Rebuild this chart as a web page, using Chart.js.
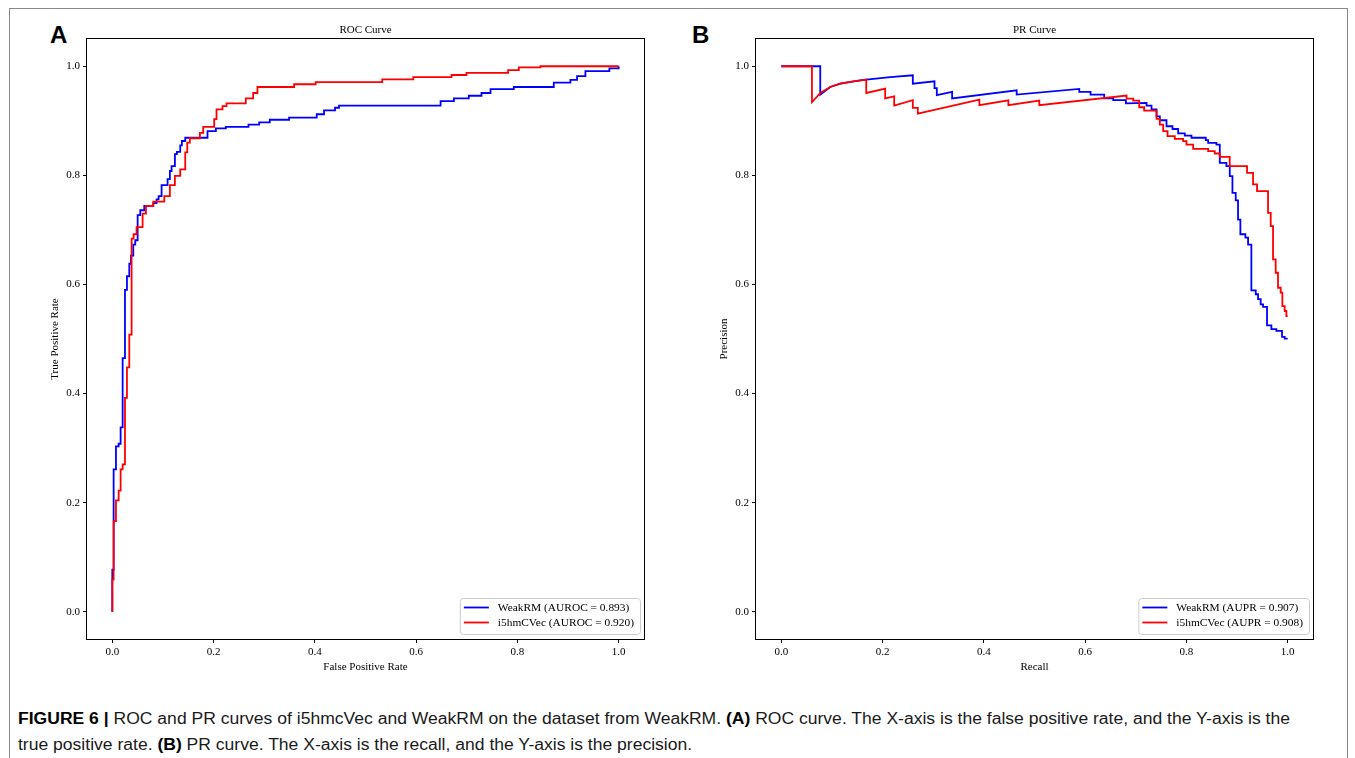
<!DOCTYPE html>
<html>
<head>
<meta charset="utf-8">
<script src="https://cdn.jsdelivr.net/npm/chart.js@4.4.1/dist/chart.umd.min.js"></script>
<style>
  html, body { margin: 0; padding: 0; background: #fff; }
  body { width: 1355px; height: 758px; position: relative; overflow: hidden; }
  #frame { position: absolute; left: 9px; top: 8px; width: 1339px; height: 780px; border: 1px solid #8a8a8a; box-sizing: border-box; }
  canvas { position: absolute; top: 0; }
  #roc { left: 0; }
  #pr { left: 670px; }
  .letter { position: absolute; font: bold 24px "Liberation Sans", Arial, sans-serif; line-height: 24px; color: #000; }
  #caption { position: absolute; left: 18px; top: 706px; font: 16px "Liberation Sans", Arial, sans-serif; line-height: 26px; color: #1a1a1a; transform-origin: left top; white-space: nowrap; }
  #caption b { color: #000; }
</style>
</head>
<body>
<div id="frame"></div>
<div class="letter" style="left:50px; top:23px;">A</div>
<div class="letter" style="left:692px; top:23px;">B</div>
<canvas id="roc" width="680" height="700"></canvas>
<canvas id="pr" width="680" height="700"></canvas>
<div id="caption">
  <div><span id="capLine1"><b>FIGURE 6 |</b> ROC and PR curves of i5hmcVec and WeakRM on the dataset from WeakRM. <b>(A)</b> ROC curve. The X-axis is the false positive rate, and the Y-axis is the</span></div>
  <div>true positive rate. <b>(B)</b> PR curve. The X-axis is the recall, and the Y-axis is the precision.</div>
</div>
<script>
// ---- data ----
const modelNames = ['WeakRM', 'i5hmCVec'];
const rocAuc = [0.893, 0.920];
const prAuc = [0.907, 0.908];
const tickValues = [0, 0.2, 0.4, 0.6, 0.8, 1.0];

// ROC: each point = (fpr where the curve steps up, tpr after the step)
const rocWeakFpr = [0, 0, 0.0026, 0.0072, 0.0125, 0.0164, 0.0204, 0.025, 0.0289, 0.0335, 0.0368, 0.0414, 0.0453, 0.05, 0.0552, 0.0631, 0.0809, 0.0874, 0.0914, 0.0973, 0.1091, 0.1137, 0.117, 0.1236, 0.1275, 0.1341, 0.1374, 0.144, 0.188, 0.2045, 0.2242, 0.2689, 0.29, 0.311, 0.3491, 0.4037, 0.4181, 0.4398, 0.4477, 0.6483, 0.6746, 0.704, 0.7291, 0.7469, 0.7929, 0.8718, 0.9047, 0.9178, 0.9343, 0.9816, 1.0];
const rocWeakTpr = [0, 0.077, 0.261, 0.303, 0.308, 0.338, 0.465, 0.59, 0.615, 0.638, 0.653, 0.673, 0.681, 0.727, 0.736, 0.744, 0.749, 0.756, 0.762, 0.782, 0.793, 0.808, 0.817, 0.839, 0.843, 0.855, 0.863, 0.869, 0.881, 0.886, 0.889, 0.893, 0.897, 0.902, 0.906, 0.912, 0.919, 0.924, 0.928, 0.936, 0.941, 0.946, 0.951, 0.958, 0.962, 0.97, 0.975, 0.982, 0.991, 0.996, 1.0];
const rocI5Fpr = [0, 0, 0.0026, 0.0072, 0.0125, 0.0164, 0.0204, 0.025, 0.0289, 0.0335, 0.0381, 0.042, 0.0479, 0.0598, 0.0664, 0.0809, 0.1026, 0.1137, 0.1236, 0.1341, 0.144, 0.148, 0.1532, 0.173, 0.1795, 0.2012, 0.2058, 0.2176, 0.2255, 0.2636, 0.2781, 0.2866, 0.359, 0.4017, 0.533, 0.5944, 0.6699, 0.6995, 0.7817, 0.8028, 0.8455, 1.0];
const rocI5Tpr = [0, 0.059, 0.166, 0.204, 0.222, 0.261, 0.27, 0.392, 0.448, 0.508, 0.684, 0.692, 0.705, 0.73, 0.744, 0.752, 0.762, 0.782, 0.799, 0.811, 0.842, 0.86, 0.868, 0.878, 0.889, 0.903, 0.921, 0.927, 0.932, 0.941, 0.951, 0.962, 0.967, 0.971, 0.976, 0.98, 0.984, 0.988, 0.993, 0.998, 1.0, 1.0];

// PR: curve vertices (recall, precision)
const prWeakRecall = [
  0, 0.0769, 0.0769, 0.0966, 0.1164, 0.1427, 0.1677, 0.215, 0.2597, 0.2597,
  0.3025, 0.3025, 0.3071, 0.3071, 0.3373, 0.3373, 0.4648, 0.4648, 0.5884, 0.5884,
  0.6107, 0.6107, 0.6377, 0.6377, 0.6555, 0.6555, 0.6805, 0.6805, 0.7212, 0.7212,
  0.7311, 0.7311, 0.741, 0.741, 0.7475, 0.7475, 0.7607, 0.7607, 0.7725, 0.7725,
  0.7837, 0.7837, 0.7968, 0.7968, 0.81, 0.81, 0.8383, 0.8383, 0.8429, 0.8429,
  0.8593, 0.8593, 0.8659, 0.8659, 0.879, 0.879, 0.8856, 0.8856, 0.8909, 0.8909,
  0.8974, 0.8974, 0.902, 0.902, 0.9066, 0.9066, 0.9165, 0.9165, 0.9218, 0.9218,
  0.9283, 0.9283, 0.9369, 0.9369, 0.9415, 0.9415, 0.9467, 0.9467, 0.9514, 0.9514,
  0.9592, 0.9592, 0.9678, 0.9678, 0.9777, 0.9777, 0.9888, 0.9888, 0.9941, 0.9941,
  1.0];
const prWeakPrecision = [
  1.0, 1.0, 0.948, 0.962, 0.968, 0.9725, 0.9756, 0.98, 0.9835, 0.968,
  0.9725, 0.96, 0.96, 0.947, 0.953, 0.941, 0.956, 0.948, 0.9585, 0.953,
  0.953, 0.948, 0.948, 0.941, 0.941, 0.938, 0.938, 0.932, 0.933, 0.928,
  0.928, 0.921, 0.921, 0.908, 0.908, 0.901, 0.901, 0.89, 0.89, 0.885,
  0.885, 0.877, 0.877, 0.873, 0.873, 0.869, 0.869, 0.8645, 0.8645, 0.8596,
  0.8596, 0.8565, 0.8565, 0.823, 0.823, 0.817, 0.817, 0.7985, 0.7985, 0.768,
  0.768, 0.754, 0.754, 0.719, 0.719, 0.692, 0.692, 0.686, 0.686, 0.673,
  0.673, 0.589, 0.589, 0.582, 0.582, 0.573, 0.573, 0.5635, 0.5635, 0.559,
  0.559, 0.525, 0.525, 0.518, 0.518, 0.515, 0.515, 0.504, 0.504, 0.5006,
  0.5006];
const prI5Recall = [
  0, 0.0605, 0.0605, 0.077, 0.0966, 0.1164, 0.1427, 0.1677, 0.1677, 0.2051,
  0.2051, 0.2229, 0.2229, 0.2597, 0.2597, 0.2696, 0.2696, 0.3912, 0.3912, 0.4484,
  0.4484, 0.5095, 0.5095, 0.6818, 0.6818, 0.695, 0.695, 0.7068, 0.7068, 0.7166,
  0.7166, 0.741, 0.741, 0.7475, 0.7475, 0.7541, 0.7541, 0.7627, 0.7627, 0.7771,
  0.7771, 0.7936, 0.7936, 0.8001, 0.8001, 0.8133, 0.8133, 0.8429, 0.8429, 0.856,
  0.856, 0.8659, 0.8659, 0.8856, 0.8856, 0.9198, 0.9198, 0.9316, 0.9316, 0.9395,
  0.9395, 0.9612, 0.9612, 0.9665, 0.9665, 0.9711, 0.9711, 0.9763, 0.9763, 0.9809,
  0.9809, 0.9862, 0.9862, 0.9895, 0.9895, 0.9941, 0.9941, 0.9974, 0.9974, 1.0];
const prI5Precision = [
  1.0, 1.0, 0.934, 0.951, 0.962, 0.968, 0.9725, 0.9756, 0.951, 0.959,
  0.941, 0.945, 0.928, 0.9377, 0.9237, 0.9237, 0.9133, 0.939, 0.9286, 0.9377,
  0.9286, 0.9371, 0.9286, 0.9463, 0.9408, 0.9408, 0.9371, 0.9371, 0.9249, 0.9249,
  0.9188, 0.9188, 0.9035, 0.9035, 0.8932, 0.8932, 0.881, 0.881, 0.8718, 0.8718,
  0.8669, 0.8669, 0.8626, 0.8626, 0.8565, 0.8565, 0.8486, 0.8486, 0.8443, 0.8443,
  0.8401, 0.8401, 0.834, 0.834, 0.8168, 0.8168, 0.8046, 0.8046, 0.7833, 0.7833,
  0.7711, 0.7711, 0.7314, 0.7314, 0.7069, 0.7069, 0.6459, 0.6459, 0.6215, 0.6215,
  0.594, 0.594, 0.5849, 0.5849, 0.5604, 0.5604, 0.5513, 0.5513, 0.5421, 0.5421];

const seriesColors = ['#0000ff', '#ff0000'];
const CANVAS_W = 680, CANVAS_H = 700, AREA_W = 557, AREA_TOP = 39, AREA_BOTTOM = 639;
const serif = '"Liberation Serif", "Times New Roman", serif';

function toPoints(xs, ys) {
  return xs.map((x, i) => ({ x: x, y: ys[i] }));
}

// spines, title and a matplotlib-like legend box
const mplDecor = {
  id: 'mplDecor',
  afterDraw(chart, args, opts) {
    const ctx = chart.ctx, a = chart.chartArea;
    ctx.save();
    ctx.strokeStyle = '#000';
    ctx.lineWidth = 1;
    ctx.strokeRect(a.left - 0.5, a.top - 0.5, a.width + 1, a.height + 1);

    ctx.fillStyle = '#000';
    ctx.font = '11px ' + serif;
    ctx.textAlign = 'center';
    ctx.textBaseline = 'alphabetic';
    ctx.fillText(opts.title, (a.left + a.right) / 2, a.top - 6);

    ctx.font = '11.4px ' + serif;
    const labels = opts.labels;
    const textW = Math.max(...labels.map(t => ctx.measureText(t).width));
    const boxW = textW + 44, boxH = 36;
    const bx = a.right - 4 - boxW, by = a.bottom - 5 - boxH;
    ctx.beginPath();
    ctx.roundRect(bx + 0.5, by + 0.5, boxW, boxH, 3);
    ctx.fillStyle = 'rgba(255,255,255,0.8)';
    ctx.fill();
    ctx.strokeStyle = '#cccccc';
    ctx.stroke();
    ctx.textAlign = 'left';
    ctx.textBaseline = 'middle';
    labels.forEach((t, i) => {
      const ry = by + 9.5 + i * 15;
      ctx.strokeStyle = seriesColors[i];
      ctx.lineWidth = 1.8;
      ctx.beginPath();
      ctx.moveTo(bx + 4, ry);
      ctx.lineTo(bx + 29, ry);
      ctx.stroke();
      ctx.fillStyle = '#000';
      ctx.fillText(t, bx + 38, ry + 0.5);
    });
    ctx.restore();
  }
};

function axisOpts(titleText, isX, axisLeft) {
  return {
    type: 'linear',
    min: -0.05,
    max: 1.05,
    afterBuildTicks: s => { s.ticks = tickValues.map(v => ({ value: v })); },
    afterFit: s => {
      if (isX) s.height = CANVAS_H - AREA_BOTTOM;
      else s.width = axisLeft;
    },
    grid: { display: true, drawOnChartArea: false, drawTicks: true, tickLength: 4, tickColor: '#000', tickWidth: 1 },
    border: { display: false },
    ticks: {
      padding: 3,
      color: '#000',
      autoSkip: false,
      maxRotation: 0,
      font: { family: serif, size: 11 },
      callback: v => Number(v).toFixed(1)
    },
    title: {
      display: true,
      text: titleText,
      color: '#000',
      font: { family: serif, size: 11 },
      padding: isX ? { top: 0, bottom: 26 } : { top: axisLeft - 38, bottom: 0 }
    }
  };
}

function makePanel(canvasId, cfg) {
  new Chart(document.getElementById(canvasId), {
    type: 'line',
    data: { datasets: cfg.datasets },
    options: {
      responsive: false,
      animation: false,
      devicePixelRatio: 1,
      layout: { padding: { top: AREA_TOP, left: 0, bottom: 0, right: CANVAS_W - cfg.axisLeft - AREA_W } },
      elements: { point: { radius: 0 }, line: { borderWidth: 1.8, tension: 0 } },
      plugins: {
        legend: { display: false },
        tooltip: { enabled: false },
        mplDecor: { title: cfg.title, labels: cfg.labels }
      },
      scales: {
        x: axisOpts(cfg.xTitle, true, cfg.axisLeft),
        y: axisOpts(cfg.yTitle, false, cfg.axisLeft)
      }
    },
    plugins: [mplDecor]
  });
}

makePanel('roc', {
  axisLeft: 87,
  title: 'ROC Curve',
  xTitle: 'False Positive Rate',
  yTitle: 'True Positive Rate',
  labels: modelNames.map((n, i) => n + ' (AUROC = ' + rocAuc[i].toFixed(3) + ')'),
  datasets: [
    { label: modelNames[0], data: toPoints(rocWeakFpr, rocWeakTpr), borderColor: seriesColors[0], stepped: 'before', order: 2 },
    { label: modelNames[1], data: toPoints(rocI5Fpr, rocI5Tpr), borderColor: seriesColors[1], stepped: 'before', order: 1 }
  ]
});

makePanel('pr', {
  axisLeft: 86,
  title: 'PR Curve',
  xTitle: 'Recall',
  yTitle: 'Precision',
  labels: modelNames.map((n, i) => n + ' (AUPR = ' + prAuc[i].toFixed(3) + ')'),
  datasets: [
    { label: modelNames[0], data: toPoints(prWeakRecall, prWeakPrecision), borderColor: seriesColors[0], order: 2 },
    { label: modelNames[1], data: toPoints(prI5Recall, prI5Precision), borderColor: seriesColors[1], order: 1 }
  ]
});

// stretch the caption so its first line spans the same width as in the figure
const line1 = document.getElementById('capLine1');
const k = 1272 / line1.getBoundingClientRect().width;
document.getElementById('caption').style.transform = 'scaleX(' + k.toFixed(4) + ')';
</script>
</body>
</html>
